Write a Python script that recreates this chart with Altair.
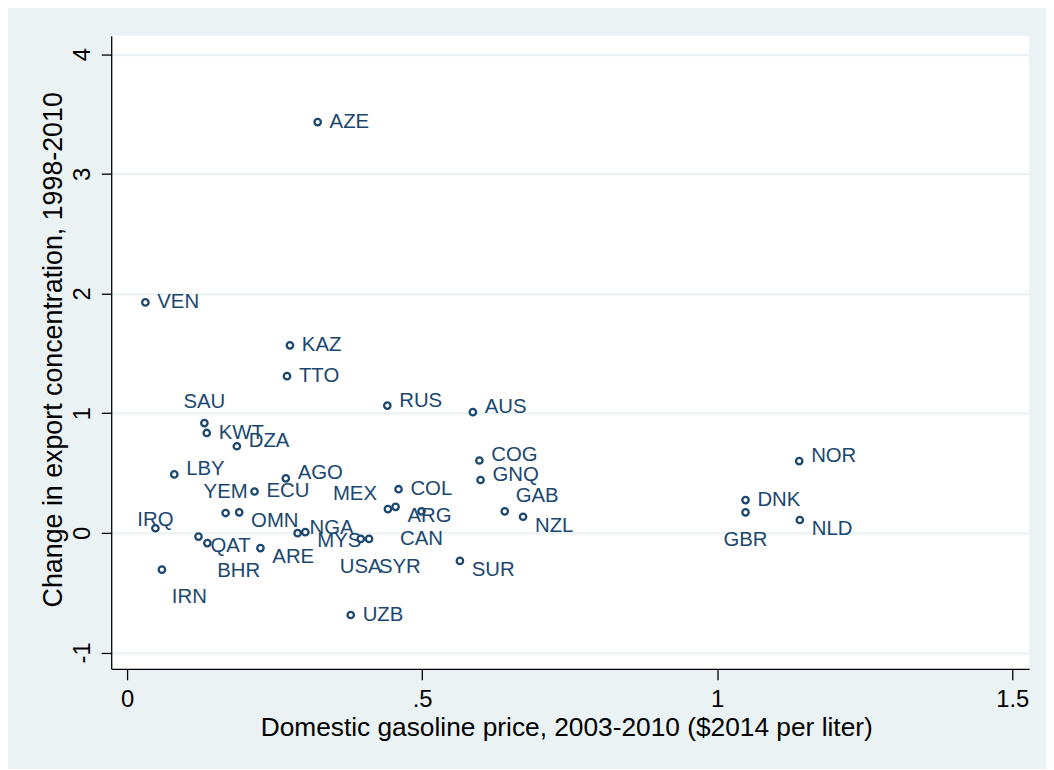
import altair as alt
import pandas as pd

# ---- data ----
COUNTRIES = ["AZE", "VEN", "KAZ", "TTO", "RUS", "AUS", "SAU", "KWT", "DZA", "LBY",
             "AGO", "ECU", "YEM", "OMN", "NGA", "MYS", "QAT", "BHR", "ARE", "IRN",
             "IRQ", "USA", "SYR", "MEX", "ARG", "CAN", "COL", "COG", "GNQ", "GAB",
             "NZL", "SUR", "UZB", "NOR", "DNK", "GBR", "NLD"]
PRICE = [0.323, 0.031, 0.276, 0.271, 0.441, 0.586, 0.131, 0.135, 0.186, 0.080,
         0.269, 0.216, 0.167, 0.190, 0.289, 0.302, 0.121, 0.136, 0.226, 0.059,
         0.048, 0.396, 0.410, 0.442, 0.455, 0.499, 0.460, 0.597, 0.599, 0.640,
         0.671, 0.564, 0.379, 1.139, 1.048, 1.048, 1.140]
CHANGE = [3.432, 1.925, 1.566, 1.309, 1.063, 1.008, 0.917, 0.834, 0.723, 0.488,
          0.455, 0.345, 0.165, 0.171, -0.003, 0.005, -0.032, -0.086, -0.128, -0.308,
          0.038, -0.051, -0.051, 0.198, 0.217, 0.179, 0.364, 0.604, 0.441, 0.179,
          0.134, -0.235, -0.687, 0.599, 0.273, 0.171, 0.107]
# marker-label clock positions (Stata style)
LABEL_POS = [3, 3, 3, 3, 2, 2, 12, 3, 2, 2,
             2, 3, 12, 4, 2, 4, 4, 5, 4, 5,
             0, 6, 5, 10, 4, 6, 3, 2, 2, 1,
             4, 4, 3, 2, 3, 6, 4]

X_TICKS = [0, 0.5, 1, 1.5]
X_TICK_LABELS = ["0", ".5", "1", "1.5"]
Y_TICKS = [-1, 0, 1, 2, 3, 4]

X_TITLE = "Domestic gasoline price, 2003-2010 ($2014 per liter)"
Y_TITLE = "Change in export concentration, 1998-2010"

df = pd.DataFrame({"country": COUNTRIES, "price": PRICE, "change": CHANGE, "pos": LABEL_POS})

# ---- styling ----
NAVY = "#1a476f"
BG = "#eaf2f3"
FONT = "Liberation Sans"
W, H = 925, 638

label_expr = " : ".join(
    f"datum.value == {v} ? '{t}'" for v, t in zip(X_TICKS, X_TICK_LABELS)
) + " : ''"

x_enc = alt.X(
    "price:Q",
    scale=alt.Scale(domain=[-0.0269, 1.5286], nice=False, zero=False),
    axis=alt.Axis(
        values=X_TICKS, labelExpr=label_expr, grid=False,
        tickSize=11, tickWidth=1.3, tickColor="black",
        domainColor="black", domainWidth=1.3,
        labelFont=FONT, labelFontSize=24, labelColor="black", labelPadding=8,
        labelFlush=False, labelOverlap=False,
        title=X_TITLE, titleFont=FONT, titleFontSize=26.5, titleFontWeight="normal",
        titleColor="black", titleX=W / 2 - 4, titleY=67, titleAlign="center",
        titleBaseline="alphabetic",
    ),
)
y_enc = alt.Y(
    "change:Q",
    scale=alt.Scale(domain=[-1.1368, 4.1534], nice=False, zero=False),
    axis=alt.Axis(
        values=Y_TICKS, labelExpr="'' + datum.value", grid=True, gridColor=BG, gridWidth=2.2,
        tickSize=10, tickWidth=1.3, tickColor="black",
        domainColor="black", domainWidth=1.3,
        labelFont=FONT, labelFontSize=24, labelColor="black", labelPadding=12,
        labelAngle=270, labelAlign="center", labelBaseline="alphabetic",
        labelFlush=False, labelOverlap=False,
        title=Y_TITLE, titleFont=FONT, titleFontSize=27, titleFontWeight="normal",
        titleColor="black", titleAngle=270, titleX=-50, titleY=316,
        titleAlign="center", titleBaseline="alphabetic",
    ),
)

base = alt.Chart(df)

points = base.mark_point(
    shape="circle", filled=False, size=42, strokeWidth=2.3, color=NAVY, opacity=1
).encode(x=x_enc, y=y_enc)

# clock position -> (dx, dy, align)
POS_STYLE = {
    3: (12, 0, "left"),
    2: (12, -5, "left"),
    1: (11, -15, "left"),
    4: (12, 9, "left"),
    5: (10, 28, "left"),
    6: (0, 28, "center"),
    12: (0, -21, "center"),
    10: (-11, -15, "right"),
    0: (0, -8, "center"),
}

layers = [points]
for p, (dx, dy, align) in POS_STYLE.items():
    layers.append(
        base.transform_filter(alt.datum.pos == p)
        .mark_text(dx=dx, dy=dy, align=align, baseline="middle",
                   font=FONT, fontSize=20.5, color=NAVY)
        .encode(x=x_enc, y=y_enc, text="country:N")
    )

chart = (
    alt.layer(*layers)
    .properties(
        width=W, height=H,
        autosize=alt.AutoSizeParams(type="none"),
        padding={"left": 104, "top": 25, "right": 17, "bottom": 98},
    )
    .configure(background=BG)
    .configure_view(stroke=None, fill="white")
)

chart.save("out.html", embed_options={"renderer": "svg", "actions": False})
